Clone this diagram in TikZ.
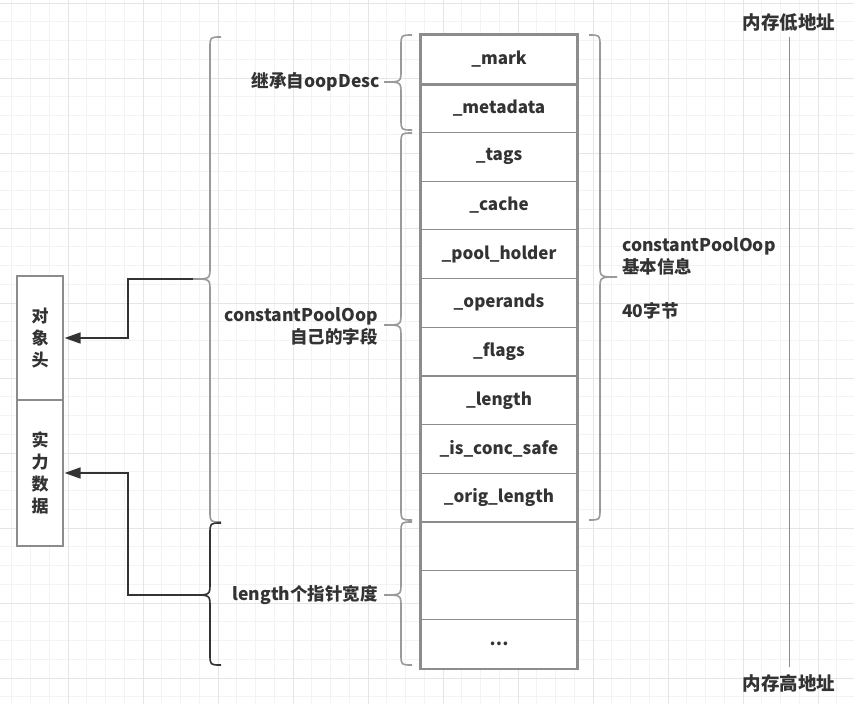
\documentclass[tikz,border=0pt]{standalone}
\usepackage{fontspec}
\setmainfont{Noto Sans CJK SC}
\usetikzlibrary{arrows.meta}

\definecolor{txt}{HTML}{333333}
\definecolor{cellgray}{HTML}{8C8C8C}
\definecolor{bracegray}{HTML}{9A9A9A}
\definecolor{minorgrid}{HTML}{F3F3F3}
\definecolor{majorgrid}{HTML}{E5E5E5}

% curly braces: x, top, tip, bottom
\newcommand{\lbrc}[4]{(#1+11,#2) .. controls (#1,#2) .. (#1,#2+11) -- (#1,#3-12) .. controls (#1,#3) .. (#1-17,#3) .. controls (#1,#3) .. (#1,#3+12) -- (#1,#4-11) .. controls (#1,#4) .. (#1+11,#4)}
\newcommand{\rbrc}[4]{(#1-11,#2) .. controls (#1,#2) .. (#1,#2+11) -- (#1,#3-12) .. controls (#1,#3) .. (#1+17,#3) .. controls (#1,#3) .. (#1,#3+12) -- (#1,#4-11) .. controls (#1,#4) .. (#1-11,#4)}

\begin{document}
\begin{tikzpicture}[x=1pt, y=-1pt,
	every node/.style={text centered, text=txt, inner sep=0pt,
		font=\bfseries\fontsize{17}{22}\selectfont},
	cell/.style={draw=cellgray, line width=1.2pt, fill=white,
		minimum width=156pt, minimum height=48.7pt},
	hdrbox/.style={draw=cellgray, line width=1.2pt, fill=white,
		minimum width=46pt, align=center},
	lbl/.style={font=\bfseries\fontsize{17.5}{22}\selectfont},
	addr/.style={font=\bfseries\fontsize{18.5}{22}\selectfont},
	brc/.style={draw=bracegray, line width=1.6pt},
	darkbrc/.style={draw=txt, line width=1.6pt},
	conn/.style={draw=txt, line width=1.6pt, shorten >=1pt,
		-{Triangle[length=16pt, width=11pt]}},
	addrline/.style={draw=cellgray, line width=1pt}]

	\fill[white] (0,0) rectangle (854,704);
	\useasboundingbox (0,0) rectangle (854,704);

	\foreach \gx in {0,...,46}
		\draw[minorgrid, line width=1pt] (-7+18.75*\gx,0) -- (-7+18.75*\gx,704);
	\foreach \gy in {0,...,37}
		\draw[minorgrid, line width=1pt] (0,3+18.75*\gy) -- (854,3+18.75*\gy);
	\foreach \gx in {1,...,11}
		\draw[majorgrid, line width=1pt] (-7+75*\gx,0) -- (-7+75*\gx,704);
	\foreach \gy in {0,...,9}
		\draw[majorgrid, line width=1pt] (0,3+75*\gy) -- (854,3+75*\gy);

	% memory layout
	\foreach \lab [count=\i from 0] in {\_mark, \_metadata, \_tags, \_cache,
		\_pool\_holder, \_operands, \_flags, \_length, \_is\_conc\_safe,
		\_orig\_length, {}, {}, \ldots}
		\node[cell] (cell\i) at (499,35+48.7*\i+24.35) {\lab};
	\draw[cellgray, line width=2pt] (cell0.north west) rectangle (cell12.south east);
	\draw[cellgray, line width=2.4pt] (cell0.north west) rectangle (cell0.south east);

	\node[hdrbox, minimum height=124pt] (head) at (40,338) {对\\象\\头};
	\node[hdrbox, minimum height=146pt] (data) at (40,473) {实\\力\\数\\据};

	\draw[brc] \lbrc{210}{37}{279}{522};
	\draw[darkbrc] \lbrc{210}{523}{595}{665};
	\draw[brc] \lbrc{401}{35}{82}{130};
	\draw[brc] \lbrc{401}{133}{325}{520};
	\draw[brc] \lbrc{401}{522}{595}{665};
	\draw[brc] \rbrc{600}{35}{277}{520};

	\coordinate (tipA) at (193,279);
	\coordinate (tipB) at (193,595);

	\node[lbl, anchor=east] (inherit) at (380,82) {继承自oopDesc};
	\node[lbl, anchor=east, align=right] (ownfld) at (378,326)
		{constantPoolOop\\自己的字段};
	\node[lbl, anchor=east] (ptrs) at (378,595) {length个指针宽度};
	\node[lbl, anchor=west, align=left] (info) at (622,278)
		{constantPoolOop\\基本信息\\[22pt]40字节};

	\node[addr] (lowaddr) at (789,22) {内存低地址};
	\node[addr] (highaddr) at (789,683) {内存高地址};
	\draw[addrline, shorten <=6pt, shorten >=7pt] (lowaddr.south) -- (highaddr.north);

	\draw[conn] (tipA) -- ++(-65,0) |- (head.east);
	\draw[conn] (tipB) -- ++(-65,0) |- (data.east);
\end{tikzpicture}
\end{document}
